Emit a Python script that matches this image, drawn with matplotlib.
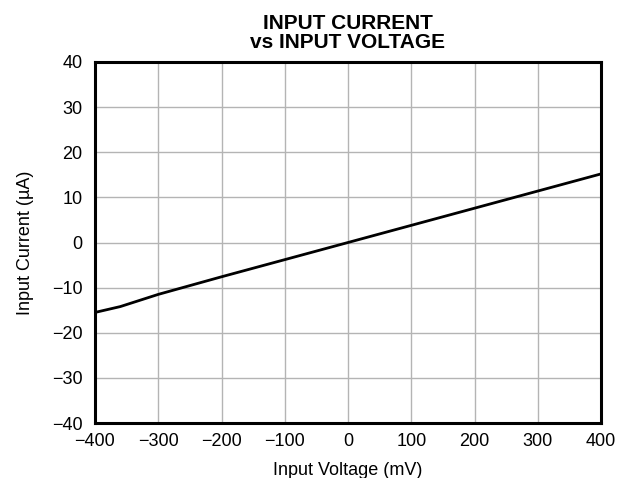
import matplotlib
matplotlib.use("Agg")
import matplotlib.pyplot as plt

plt.rcParams['font.family'] = ['Liberation Sans', 'DejaVu Sans']

voltage_mv = [-400, -360, -300, -200, -100, 0, 100, 200, 300, 400]
current_ua = [-15.5, -14.2, -11.5, -7.6, -3.8, 0.0, 3.8, 7.6, 11.4, 15.2]

xticks = [-400, -300, -200, -100, 0, 100, 200, 300, 400]
yticks = [-40, -30, -20, -10, 0, 10, 20, 30, 40]

fig = plt.figure(figsize=(6.26, 4.78), dpi=100)
ax = fig.add_axes([95/626, 1 - 423/478, (601-95)/626, (423-62)/478])

ax.plot(voltage_mv, current_ua, color="black", lw=2)

ax.set_xlim(-400, 400)
ax.set_ylim(-40, 40)
ax.set_xticks(xticks)
ax.set_yticks(yticks)
ax.set_xticklabels([str(t).replace("-", "\u2212") for t in xticks])
ax.set_yticklabels([str(t).replace("-", "\u2212") for t in yticks])
ax.tick_params(length=0, labelsize=13)
ax.tick_params(axis="y", pad=9)
ax.tick_params(axis="x", pad=7)
ax.grid(True, color="#b4b4b4", lw=1)
ax.set_axisbelow(True)
for s in ax.spines.values():
    s.set_linewidth(2.2)

ax.set_xlabel("Input Voltage (mV)", fontsize=13, labelpad=9)
ax.set_ylabel("Input Current (\u00b5A)", fontsize=13, labelpad=13)
ax.set_title("INPUT CURRENT\nvs INPUT VOLTAGE", fontsize=15, fontweight="bold",
             linespacing=1.0, pad=10)

fig.savefig("out.png", dpi=100)
